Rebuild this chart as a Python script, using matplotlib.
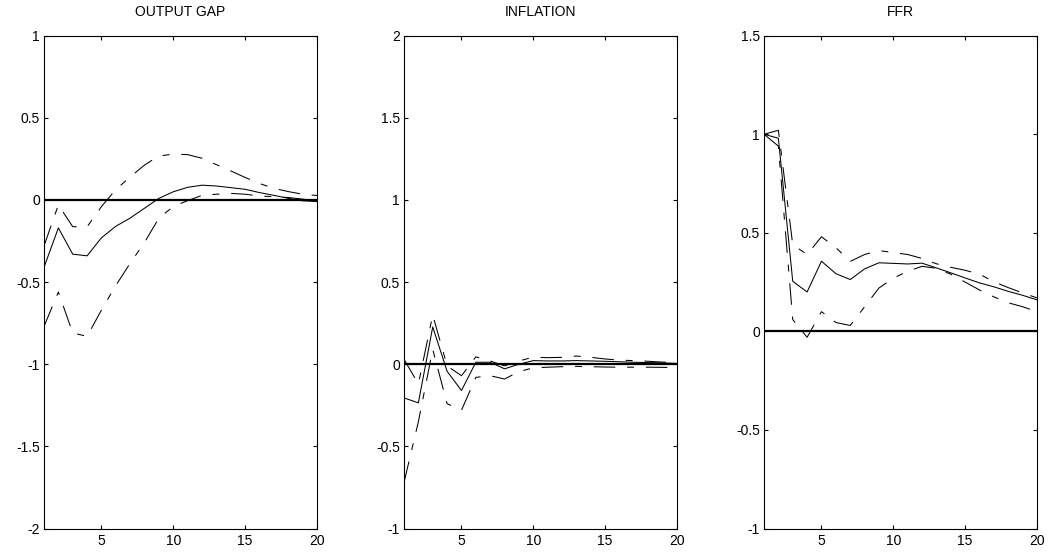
import numpy as np
import matplotlib
matplotlib.use("Agg")
import matplotlib.pyplot as plt

# Horizonte (trimestres)
steps = np.arange(1, 21)

# OUTPUT GAP
gap_mid = [-0.41, -0.17, -0.33, -0.34, -0.23, -0.16, -0.11, -0.05, 0.01, 0.05,
           0.077, 0.09, 0.085, 0.075, 0.065, 0.045, 0.028, 0.01, -0.005, -0.01]
gap_up = [-0.28, -0.03, -0.163, -0.163, -0.04, 0.064, 0.14, 0.213, 0.268, 0.279,
          0.276, 0.254, 0.215, 0.177, 0.137, 0.10, 0.071, 0.051, 0.035, 0.027]
gap_lo = [-0.77, -0.56, -0.81, -0.83, -0.67, -0.52, -0.385, -0.258, -0.11, -0.04,
          -0.004, 0.028, 0.035, 0.04, 0.035, 0.024, 0.02, 0.015, 0.005, 0.0]

# INFLATION
inf_mid = [-0.205, -0.235, 0.227, -0.043, -0.16, 0.012, 0.012, -0.028, 0.0, 0.022,
           0.02, 0.02, 0.022, 0.02, 0.018, 0.015, 0.012, 0.01, 0.008, 0.005]
inf_up = [0.03, -0.12, 0.30, -0.01, -0.07, 0.045, 0.02, -0.01, 0.02, 0.043,
          0.04, 0.042, 0.05, 0.042, 0.032, 0.025, 0.022, 0.018, 0.013, 0.01]
inf_lo = [-0.72, -0.35, 0.09, -0.24, -0.28, -0.08, -0.07, -0.09, -0.045, -0.022,
          -0.018, -0.015, -0.013, -0.015, -0.017, -0.018, -0.018, -0.018, -0.019, -0.02]

# FFR
ffr_mid = [1.0, 0.98, 0.254, 0.2, 0.356, 0.293, 0.263, 0.317, 0.348, 0.345,
           0.342, 0.346, 0.322, 0.297, 0.271, 0.246, 0.226, 0.203, 0.183, 0.16]
ffr_up = [1.0, 1.02, 0.44, 0.39, 0.48, 0.425, 0.355, 0.39, 0.41, 0.40,
          0.39, 0.37, 0.343, 0.325, 0.31, 0.29, 0.252, 0.222, 0.195, 0.17]
ffr_lo = [1.0, 0.94, 0.06, -0.03, 0.1, 0.045, 0.03, 0.125, 0.22, 0.27,
          0.305, 0.33, 0.32, 0.29, 0.25, 0.21, 0.175, 0.145, 0.125, 0.10]

titles = ["OUTPUT GAP", "INFLATION", "FFR"]
series = [(gap_mid, gap_up, gap_lo), (inf_mid, inf_up, inf_lo), (ffr_mid, ffr_up, ffr_lo)]
ylims = [(-2, 1), (-1, 2), (-1, 1.5)]
yticks = [[-2, -1.5, -1, -0.5, 0, 0.5, 1],
          [-1, -0.5, 0, 0.5, 1, 1.5, 2],
          [-1, -0.5, 0, 0.5, 1, 1.5]]
ytick_labels = [["-2", "-1.5", "-1", "-0.5", "0", "0.5", "1"],
                ["-1", "-0.5", "0", "0.5", "1", "1.5", "2"],
                ["-1", "-0.5", "0", "0.5", "1", "1.5"]]
xticks = [5, 10, 15, 20]

plt.rcParams["font.family"] = ["Liberation Sans", "DejaVu Sans"]
plt.rcParams["lines.scale_dashes"] = False

fig = plt.figure(figsize=(10.51, 5.53), dpi=100)
lefts = [44 / 1051, 404 / 1051, 764 / 1051]
band_dash = (15.5, 8.5, 5, 8.5)

for i in range(3):
    ax = fig.add_axes([lefts[i], 24.5 / 553, 273 / 1051, 492.8 / 553])
    mid, up, lo = series[i]
    ax.plot(steps, np.zeros(len(steps)), color="black", linewidth=1.6)
    ax.plot(steps, mid, color="black", linewidth=0.75)
    ax.plot(steps, up, color="black", linewidth=0.75, dashes=band_dash)
    ax.plot(steps, lo, color="black", linewidth=0.75, dashes=band_dash)
    ax.set_xlim(1, 20)
    ax.set_ylim(*ylims[i])
    ax.set_xticks(xticks)
    ax.set_xticklabels([str(t) for t in xticks])
    ax.set_yticks(yticks[i])
    ax.set_yticklabels(ytick_labels[i])
    ax.tick_params(direction="in", top=True, right=True, length=3, width=0.8,
                   labelsize=10)
    ax.tick_params(axis="x", pad=4)
    ax.tick_params(axis="y", pad=3)
    for s in ax.spines.values():
        s.set_linewidth(0.8)
    ax.set_title(titles[i], fontsize=10, pad=14)

plt.savefig("out.png", dpi=100)
